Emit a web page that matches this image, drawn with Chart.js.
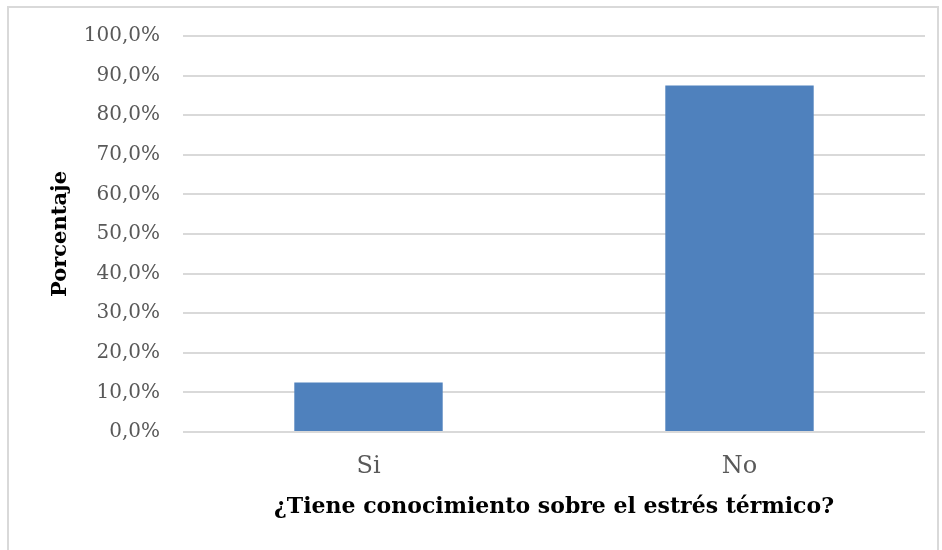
<!DOCTYPE html>
<html>
<head>
<meta charset="utf-8">
<script src="https://cdn.jsdelivr.net/npm/chart.js@4"></script>
<style>
  html, body { margin: 0; padding: 0; background: #fff; }
  #wrap { position: relative; width: 942px; height: 550px; }
  #frame { position: absolute; left: 7px; top: 6px; width: 932px; height: 560px; border: 2px solid #d9d9d9; box-sizing: border-box; pointer-events: none; }
</style>
</head>
<body>
<div id="wrap">
  <canvas id="mycanvas" width="942" height="550"></canvas>
  <div id="frame"></div>
</div>
<script>
var categories = ['Si', 'No'];
var percentages = [12.5, 87.5];
var yTicks = [0, 10, 20, 30, 40, 50, 60, 70, 80, 90, 100];

var serif = "'DejaVu Serif', serif";

var chartdata = {
  labels: categories,
  datasets: [
    {
      label: 'Porcentaje',
      backgroundColor: '#4f81bd',
      borderWidth: 0,
      barPercentage: 0.4,
      categoryPercentage: 1,
      data: percentages
    }
  ]
};

var ctx = document.getElementById('mycanvas');

var barGraph = new Chart(ctx, {
  type: 'bar',
  data: chartdata,
  options: {
    responsive: false,
    animation: false,
    layout: { padding: { left: 48, top: 36, right: 17, bottom: 0 } },
    plugins: { legend: { display: false }, tooltip: { enabled: false } },
    scales: {
      y: {
        min: 0,
        max: 100,
        afterBuildTicks: function(axis) {
          axis.ticks = yTicks.map(function(v) { return { value: v }; });
        },
        afterFit: function(axis) { axis.width = 135; },
        border: { display: false },
        grid: { color: '#d9d9d9', lineWidth: 2, drawTicks: false },
        ticks: {
          padding: 23,
          color: '#595959',
          font: { family: serif, size: 20 },
          callback: function(v) { return v.toFixed(1).replace('.', ',') + '%'; }
        },
        title: {
          display: true,
          text: 'Porcentaje',
          color: '#000',
          padding: { top: 0, bottom: 0 },
          font: { family: serif, size: 21, weight: 'bold' }
        }
      },
      x: {
        afterFit: function(axis) { axis.height = 118; },
        border: { display: false },
        grid: { display: false, drawTicks: false },
        ticks: {
          padding: 20,
          color: '#595959',
          font: { family: serif, size: 24 }
        },
        title: {
          display: true,
          text: '¿Tiene conocimiento sobre el estrés térmico?',
          color: '#000',
          padding: { top: 0, bottom: 30 },
          font: { family: serif, size: 22, weight: 'bold' }
        }
      }
    }
  }
});
</script>
</body>
</html>
